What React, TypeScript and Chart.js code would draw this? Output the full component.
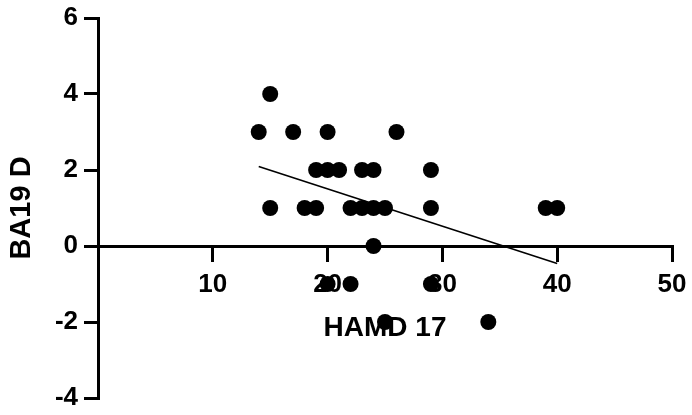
import React, { useEffect, useRef } from "react";
import { Chart, registerables } from "chart.js";

Chart.register(...registerables);

// Scatter data: HAMD 17 (x) vs BA19 D (y)
const hamdValues = [15, 14, 17, 20, 26, 19, 20, 21, 23, 24, 29, 15, 18, 19, 22, 23, 24, 25, 29, 39, 40, 24, 20, 22, 29, 25, 34];
const ba19Values = [4, 3, 3, 3, 3, 2, 2, 2, 2, 2, 2, 1, 1, 1, 1, 1, 1, 1, 1, 1, 1, 0, -1, -1, -1, -2, -2];

// Fitted line endpoints
const fitX = [14, 40];
const fitY = [2.09, -0.46];

const xTicks = [10, 20, 30, 40, 50];
const yTicks = [-4, -2, 0, 2, 4, 6];

const FONT = "'Liberation Sans', Arial, sans-serif";

export default function App() {
  const ref = useRef<HTMLCanvasElement | null>(null);

  useEffect(() => {
    const canvas = ref.current;
    if (!canvas) return;
    const points = hamdValues.map((x, i) => ({ x, y: ba19Values[i] }));
    const fit = fitX.map((x, i) => ({ x, y: fitY[i] }));

    const chart = new Chart(canvas, {
      type: "scatter",
      data: {
        datasets: [
          {
            type: "line",
            data: fit,
            borderColor: "#000",
            borderWidth: 1.6,
            pointRadius: 0,
            fill: false,
          } as any,
          {
            data: points,
            backgroundColor: "#000",
            borderColor: "#000",
            borderWidth: 0,
            pointRadius: 8,
            pointHoverRadius: 8,
          },
        ],
      },
      options: {
        animation: false,
        responsive: false,
        events: [],
        layout: { padding: { left: 0, right: 20, top: 18, bottom: 17 } },
        plugins: { legend: { display: false }, tooltip: { enabled: false } },
        scales: {
          x: {
            type: "linear",
            position: { y: 0 } as any,
            min: 0,
            max: 50,
            afterBuildTicks: (scale: any) => {
              scale.ticks = xTicks.map((v) => ({ value: v }));
            },
            afterFit: (scale: any) => {
              scale.paddingLeft = 0;
              scale.paddingRight = 0;
            },
            grid: {
              display: true,
              drawOnChartArea: false,
              drawTicks: true,
              tickLength: 14,
              lineWidth: 3,
              color: "#000",
            },
            border: { display: true, width: 3, color: "#000" },
            ticks: {
              padding: 9,
              color: "#000",
              font: { family: FONT, size: 26, weight: "bold" },
              maxRotation: 0,
              autoSkip: false,
            },
            title: {
              display: true,
              text: "HAMD 17",
              color: "#000",
              font: { family: FONT, size: 28, weight: "bold" },
              padding: { top: 2, bottom: 0 },
            },
          },
          y: {
            type: "linear",
            position: "left",
            min: -4,
            max: 6,
            afterBuildTicks: (scale: any) => {
              scale.ticks = yTicks.map((v) => ({ value: v }));
            },
            afterFit: (scale: any) => {
              scale.width = 98;
              scale.paddingTop = 0;
              scale.paddingBottom = 0;
            },
            grid: {
              display: true,
              drawOnChartArea: false,
              drawTicks: true,
              tickLength: 14,
              lineWidth: 3,
              color: "#000",
            },
            border: { display: true, width: 3, color: "#000" },
            ticks: {
              padding: 6,
              color: "#000",
              font: { family: FONT, size: 26, weight: "bold" },
              autoSkip: false,
            },
            title: {
              display: true,
              text: "BA19 D",
              color: "#000",
              font: { family: FONT, size: 29, weight: "bold" },
              padding: { top: 5, bottom: 0 },
            },
          },
        },
      },
    });
    return () => chart.destroy();
  }, []);

  return (
    <div style={{ position: "absolute", left: 0, top: 0, width: 692, height: 415, background: "#fff" }}>
      <canvas ref={ref} width={692} height={415} style={{ display: "block" }} />
    </div>
  );
}
